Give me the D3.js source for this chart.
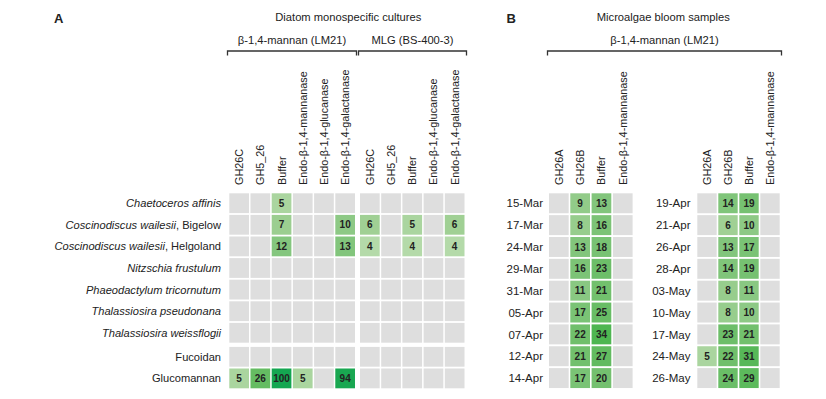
<!DOCTYPE html>
<html>
<head>
<meta charset="utf-8">
<script src="https://cdn.jsdelivr.net/npm/d3@7"></script>
<style>
  body { margin: 0; background: #fff; }
  text { font-family: "Liberation Sans", Arial, sans-serif; fill: #222; }
</style>
</head>
<body>
<div id="chart-area"></div>
<script>
const WIDTH = 826
const HEIGHT = 399

// ---- data: panel A ----
const colsA_LM21 = ["GH26C", "GH5_26", "Buffer", "Endo-β-1,4-mannanase", "Endo-β-1,4-glucanase", "Endo-β-1,4-galactanase"]
const colsA_MLG = ["GH26C", "GH5_26", "Buffer", "Endo-β-1,4-glucanase", "Endo-β-1,4-galactanase"]
const rowsA = [
  { sp: "Chaetoceros affinis", site: "" },
  { sp: "Coscinodiscus wailesii", site: ", Bigelow" },
  { sp: "Coscinodiscus wailesii", site: ", Helgoland" },
  { sp: "Nitzschia frustulum", site: "" },
  { sp: "Phaeodactylum tricornutum", site: "" },
  { sp: "Thalassiosira pseudonana", site: "" },
  { sp: "Thalassiosira weissflogii", site: "" },
  { plain: "Fucoidan" },
  { plain: "Glucomannan" }
]
const valuesA_LM21 = [
  [null, null, 5, null, null, null],
  [null, null, 7, null, null, 10],
  [null, null, 12, null, null, 13],
  [null, null, null, null, null, null],
  [null, null, null, null, null, null],
  [null, null, null, null, null, null],
  [null, null, null, null, null, null],
  [null, null, null, null, null, null],
  [5, 26, 100, 5, null, 94]
]
const valuesA_MLG = [
  [null, null, null, null, null],
  [6, null, 5, null, 6],
  [4, null, 4, null, 4],
  [null, null, null, null, null],
  [null, null, null, null, null],
  [null, null, null, null, null],
  [null, null, null, null, null],
  [null, null, null, null, null],
  [null, null, null, null, null]
]

// ---- data: panel B ----
const colsB = ["GH26A", "GH26B", "Buffer", "Endo-β-1,4-mannanase"]
const datesB1 = ["15-Mar", "17-Mar", "24-Mar", "29-Mar", "31-Mar", "05-Apr", "07-Apr", "12-Apr", "14-Apr"]
const gh26bB1 = [9, 8, 13, 16, 11, 17, 22, 21, 17]
const bufferB1 = [13, 16, 18, 23, 21, 25, 34, 27, 20]
const datesB2 = ["19-Apr", "21-Apr", "26-Apr", "28-Apr", "03-May", "10-May", "17-May", "24-May", "26-May"]
const gh26aB2 = [null, null, null, null, null, null, null, 5, null]
const gh26bB2 = [14, 6, 13, 14, 8, 8, 23, 22, 24]
const bufferB2 = [19, 10, 17, 19, 11, 10, 21, 31, 29]

const color = d3.scaleLinear()
  .domain([4, 6, 12, 22, 34, 100])
  .range(["#b4daa9", "#a0d094", "#84c67e", "#70bf6b", "#4eb651", "#14a651"])
const EMPTY = "#dedede"

const svg = d3.select("#chart-area").append("svg")
  .attr("width", WIDTH)
  .attr("height", HEIGHT)

// band scale with fixed step and gap
function band(n, start, step, gap) {
  return d3.scaleBand()
    .domain(d3.range(n))
    .range([start, start + n * step - gap])
    .paddingInner(gap / step)
}

const HEADER_BOTTOM = 185

function drawGrid(x, y, cols, matrix) {
  // matrix[row][col]
  const cells = []
  matrix.forEach((r, i) => r.forEach((v, j) => cells.push({ i, j, v })))
  const g = svg.append("g")
  g.selectAll("rect").data(cells).join("rect")
    .attr("x", d => x(d.j))
    .attr("y", d => y(d.i))
    .attr("width", x.bandwidth())
    .attr("height", y.bandwidth())
    .attr("fill", d => d.v == null ? EMPTY : color(d.v))
  g.selectAll("text.val").data(cells.filter(d => d.v != null)).join("text")
    .attr("class", "val")
    .attr("x", d => x(d.j) + x.bandwidth() / 2)
    .attr("y", d => y(d.i) + y.bandwidth() / 2)
    .attr("dy", "0.36em")
    .attr("text-anchor", "middle")
    .attr("font-size", "10px")
    .attr("font-weight", "bold")
    .text(d => d.v)

  // rotated column headers
  g.selectAll("text.col").data(cols).join("text")
    .attr("class", "col")
    .attr("transform", (d, j) => `translate(${x(j) + x.bandwidth() / 2 + 4}, ${HEADER_BOTTOM}) rotate(-90)`)
    .attr("font-size", "10.8px")
    .text(d => d)
}

function bracket(x0, x1, yLine, label, yLabel) {
  svg.append("path")
    .attr("d", `M${x0},${yLine + 4.5}V${yLine}H${x1}V${yLine + 4.5}`)
    .attr("fill", "none")
    .attr("stroke", "#333")
    .attr("stroke-width", 1.3)
  svg.append("text")
    .attr("x", (x0 + x1) / 2)
    .attr("y", yLabel)
    .attr("text-anchor", "middle")
    .attr("font-size", "11.2px")
    .text(label)
}

/******************************** Panel A ********************************/

const xA1 = band(6, 229.3, 21.2, 1.5)
const xA2 = band(5, 360, 21.2, 1.5)
const yA = d3.scaleBand()
  .domain(d3.range(9))
  .range([193.3, 193.3 + 9 * 21.6 - 1.8])
  .paddingInner(1.8 / 21.6)
const yAshift = i => yA(i) + (i >= 7 ? 2.4 : 0)
const yAscale = Object.assign(i => yAshift(i), { bandwidth: yA.bandwidth })

drawGrid(xA1, yAscale, colsA_LM21, valuesA_LM21)
drawGrid(xA2, yAscale, colsA_MLG, valuesA_MLG)

const rowLabA = svg.append("g").selectAll("text").data(rowsA).join("text")
  .attr("x", 221)
  .attr("y", (d, i) => yAscale(i) + yA.bandwidth() / 2)
  .attr("dy", "0.36em")
  .attr("text-anchor", "end")
  .attr("font-size", "11.1px")
rowLabA.each(function (d) {
  const t = d3.select(this)
  if (d.plain) {
    t.text(d.plain)
  } else {
    t.append("tspan").attr("font-style", "italic").text(d.sp)
    if (d.site) t.append("tspan").text(d.site)
  }
})

svg.append("text")
  .attr("x", 54).attr("y", 23)
  .attr("font-size", "13px").attr("font-weight", "bold")
  .text("A")
svg.append("text")
  .attr("x", 348.3).attr("y", 21)
  .attr("text-anchor", "middle").attr("font-size", "11.2px")
  .text("Diatom monospecific cultures")
bracket(227.5, 356.5, 51, "β-1,4-mannan (LM21)", 44)
bracket(358.5, 466.5, 51, "MLG (BS-400-3)", 44)

/******************************** Panel B ********************************/

const yB = band(9, 193.3, 21.85, 1.9)
const xB1 = band(4, 549, 21.3, 1.6)
const xB2 = band(4, 697.3, 21, 1.6)

const matB1 = datesB1.map((d, i) => [null, gh26bB1[i], bufferB1[i], null])
const matB2 = datesB2.map((d, i) => [gh26aB2[i], gh26bB2[i], bufferB2[i], null])
drawGrid(xB1, yB, colsB, matB1)
drawGrid(xB2, yB, colsB, matB2)

function dateLabels(dates, xRight) {
  svg.append("g").selectAll("text").data(dates).join("text")
    .attr("x", xRight)
    .attr("y", (d, i) => yB(i) + yB.bandwidth() / 2)
    .attr("dy", "0.36em")
    .attr("text-anchor", "end")
    .attr("font-size", "11.5px")
    .text(d => d)
}
dateLabels(datesB1, 543)
dateLabels(datesB2, 690.5)

svg.append("text")
  .attr("x", 506.5).attr("y", 23)
  .attr("font-size", "13px").attr("font-weight", "bold")
  .text("B")
svg.append("text")
  .attr("x", 663.3).attr("y", 21)
  .attr("text-anchor", "middle").attr("font-size", "11.2px")
  .text("Microalgae bloom samples")
bracket(547.5, 781.5, 51, "β-1,4-mannan (LM21)", 44)
</script>
</body>
</html>
